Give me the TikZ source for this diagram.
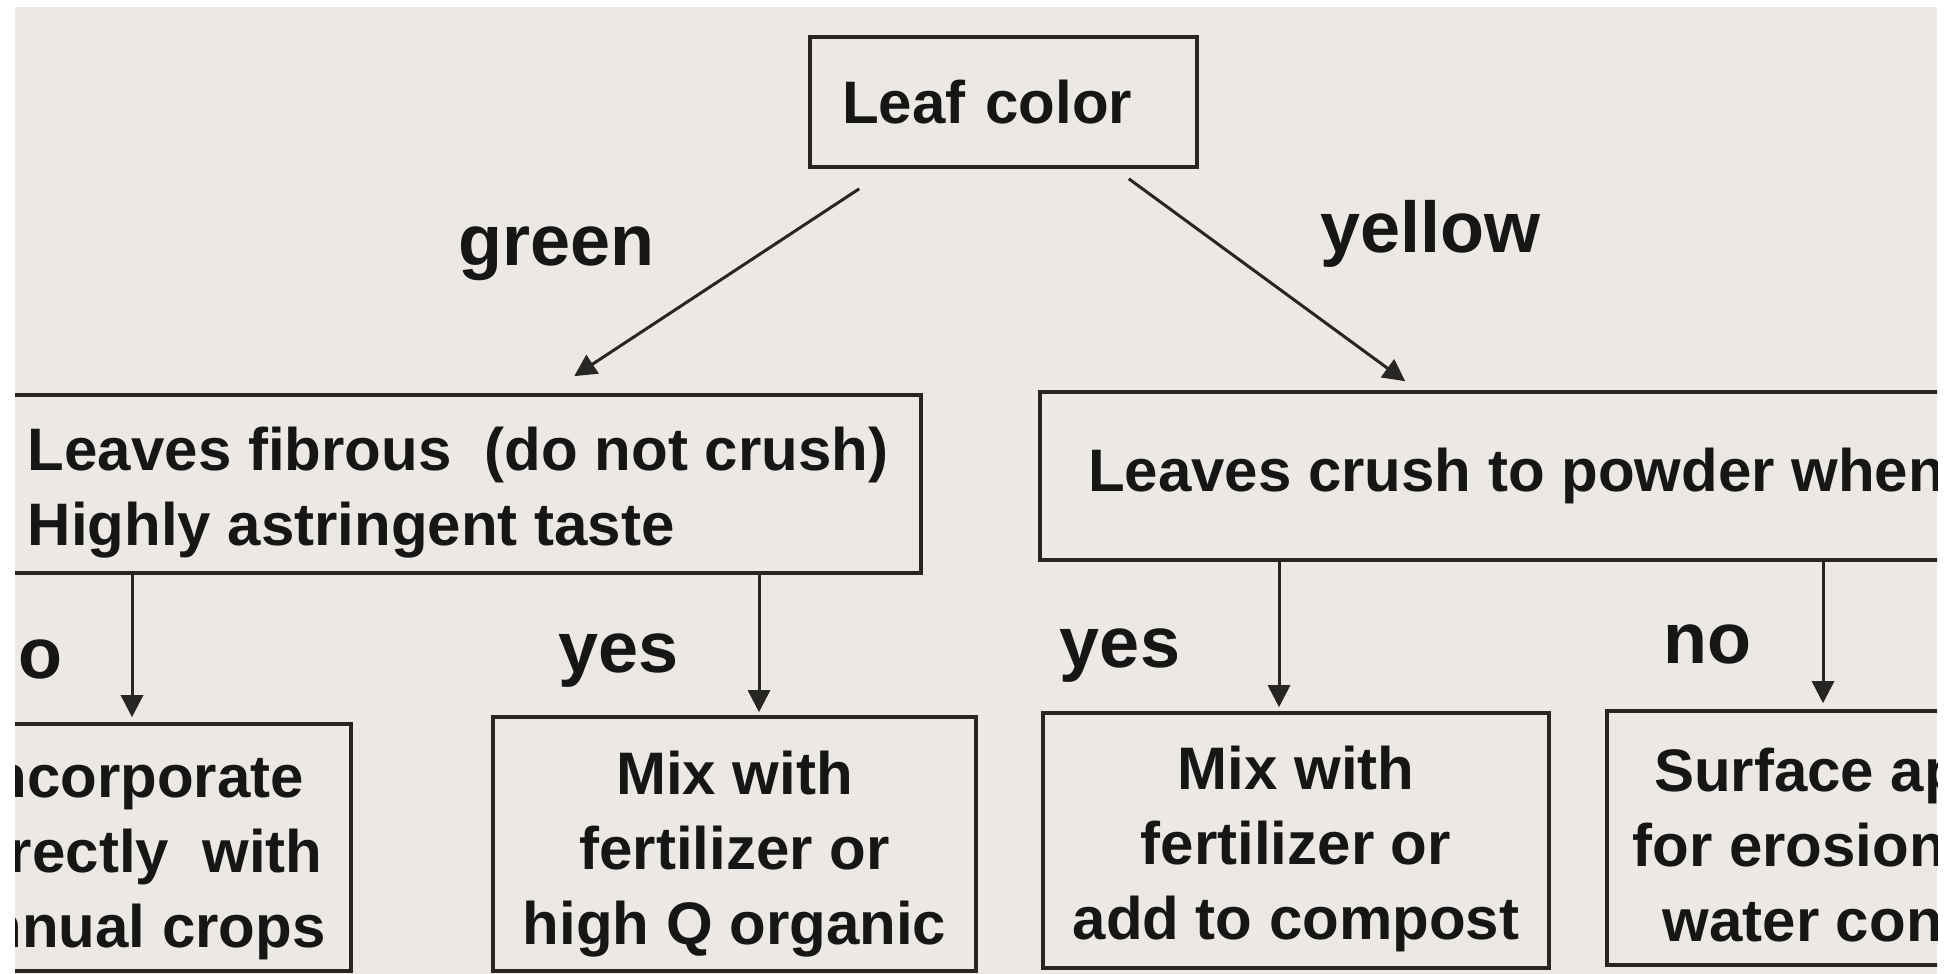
\documentclass[tikz,border=0pt]{standalone}
\usepackage{fontspec}
\setmainfont{Liberation Sans}
\usetikzlibrary{arrows.meta,calc}
\definecolor{paper}{RGB}{236,233,229}
\definecolor{ink}{RGB}{22,22,22}
\definecolor{rule}{RGB}{40,38,36}
% taller first line, to sit the text a little lower in its box
\newcommand{\firstline}[1]{\rule{0pt}{#1}}
\begin{document}
\begin{tikzpicture}[x=1pt,y=-1pt,
  box/.style={draw=rule,line width=3.6pt,text=ink,inner sep=0pt,
    font=\bfseries\fontsize{60}{75}\selectfont},
  lbl/.style={text=ink,anchor=base,inner sep=0pt,
    font=\bfseries\fontsize{72}{80}\selectfont},
  link/.style={draw=rule,line width=3pt,
    -{Triangle[length=22pt,width=22pt]}}]
\useasboundingbox (0,0) rectangle (1957,974);
\fill[white] (0,0) rectangle (1957,974);
\fill[paper] (15,7) rectangle (1937,974);
\begin{scope}
\clip (15,7) rectangle (1937,974);
% decision boxes
\node[box,minimum width=387pt,minimum height=130pt,text width=323pt,
  inner xsep=32pt,align=left] (leaf) at (1003.5,102) {Leaf color};
\node[box,minimum width=926pt,minimum height=178pt,align=left]
  (fib) at (458,484) {\firstline{61pt}Leaves fibrous~ (do not crush)\\Highly astringent taste};
\node[box,minimum width=1063pt,minimum height=168pt,align=left]
  (pow) at (1571.5,476) {Leaves crush to powder when dry};
% outcome boxes
\node[box,minimum width=424pt,minimum height=247pt,align=center]
  (inc) at (139,847.5) {\firstline{63pt}Incorporate\\directly~ with\\annual crops};
\node[box,minimum width=483pt,minimum height=254pt,align=center]
  (mixa) at (734.5,844) {\firstline{63pt}Mix with\\fertilizer or\\high Q organic};
\node[box,minimum width=506pt,minimum height=255pt,align=center]
  (mixb) at (1296,840.5) {\firstline{60pt}Mix with\\fertilizer or\\add to compost};
\node[box,minimum width=488pt,minimum height=254pt,align=center]
  (surf) at (1851,838) {\firstline{58pt}Surface apply\\for erosion and\\water control};
% branch labels
\node[lbl] (lgreen) at (556.5,265) {green};
\node[lbl] (lyellow) at (1430.5,252) {yellow};
\node[lbl] (lno1) at (18,678) {no};
\node[lbl] (lyes1) at (618.5,672) {yes};
\node[lbl] (lyes2) at (1120,667) {yes};
\node[lbl] (lno2) at (1707,663) {no};
% connectors
\draw[link] ($(leaf.south west)+(51,20)$) -- ($(fib.north west)+(581,-17)$);
\draw[link] ($(leaf.south east)+(-70,10)$) -- ($(pow.north west)+(367,-9)$);
\draw[link] ([xshift=-7pt]inc.north |- fib.south) -- ([xshift=-7pt,yshift=5pt]inc.north);
\draw[link] ([xshift=24.5pt]mixa.north |- fib.south) -- ([xshift=24.5pt,yshift=3pt]mixa.north);
\draw[link] ([xshift=-17pt]mixb.north |- pow.south) -- ([xshift=-17pt,yshift=4pt]mixb.north);
\draw[link] ([xshift=-28pt]surf.north |- pow.south) -- ([xshift=-28pt,yshift=6pt]surf.north);
\end{scope}
\end{tikzpicture}
\end{document}
